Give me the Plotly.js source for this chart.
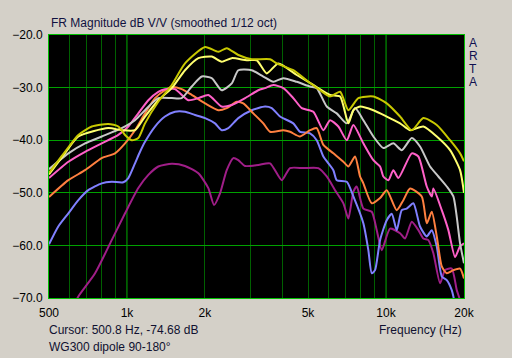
<!DOCTYPE html>
<html><head><meta charset="utf-8">
<script src="https://cdn.plot.ly/plotly-3.0.1.min.js"></script>
<style>html,body{margin:0;padding:0;background:#D4D0C8;}#chart{width:512px;height:358px;}</style>
</head><body><div id="chart"></div>
<script>
// Frequency (Hz) / level (dB) pairs
const oliveF  = [500,576,649,731,847,926,983,1043,1106,1174,1321,1489,1675,2002,2253,2427,2690,3031,3567,3786,4387,5014,5563,6081,6647,7156,7820,8936,10065,11329,12572,13935,15700,17672,19313,20000];
const oliveDb = [-46.2,-42.2,-39,-37.4,-36.9,-37.4,-39,-40,-39.6,-36.8,-32.7,-29.5,-25.4,-22.3,-23.2,-22.5,-23.8,-24.6,-24.6,-25.4,-26.7,-28.9,-30.5,-31.7,-30.8,-34.3,-32.0,-31.7,-33,-35.5,-38.1,-35.8,-37.1,-40,-42.5,-44];

const yellowF  = [500,576,649,847,954,1074,1174,1321,1489,1675,1886,2124,2321,2538,2900,3169,3463,3839,4522,5240,6081,6647,7156,7481,7938,8936,10065,11329,12383,13935,15700,17672,19313,20000];
const yellowDb = [-46.5,-42.5,-39.3,-37.7,-38.1,-38.1,-35.5,-32.4,-30.1,-26.7,-24.4,-24.1,-25.1,-24.4,-24.8,-24.8,-27.3,-25.4,-27.6,-29.5,-31.4,-31.7,-36.8,-34.3,-33.6,-34.3,-35.5,-36.8,-38.1,-37.4,-39.3,-41.9,-45.7,-50];

const grayF  = [500,594,689,799,954,1074,1174,1321,1489,1627,1778,1944,2124,2321,2538,2690,3031,3360,3673,4014,4522,5090,5401,5904,6453,7055,7595,8175,8936,9766,10673,11502,12572,13530,14791,15927,17159,18197,19313,20000];
const grayDb = [-45.5,-42.5,-40.6,-39.3,-37.7,-36.2,-34.3,-32,-32,-32,-29.8,-27.9,-28.2,-30.5,-29.2,-26.7,-26.7,-27.9,-28.9,-28.2,-28.9,-29.8,-30.1,-33.6,-34.9,-36.8,-33.9,-36.2,-39.3,-41.5,-40.6,-41.9,-39.6,-41.2,-45,-46.9,-48.8,-50.7,-59.6,-63.4];

const pinkF  = [500,594,689,799,926,1012,1106,1209,1321,1402,1532,1725,1886,2061,2321,2538,2856,3215,3412,3673,4014,4387,4728,5240,5730,6081,6547,7055,7481,8175,8936,9484,9766,10209,10673,11159,12572,13331,14363,15018,15234,16414,17405,18473,19313,20000];
const pinkDb = [-47.2,-44.1,-42.2,-40.6,-39,-37.4,-34.9,-32.4,-30.8,-30.3,-30.3,-32.4,-32,-31.4,-33.6,-33.3,-32,-30.5,-30.1,-29.5,-30.1,-32,-33.9,-34.6,-38.1,-36.2,-37.4,-40,-37.1,-40.6,-43.8,-45,-46.9,-47.6,-45.7,-47.2,-42.5,-43.1,-48.8,-50.7,-49.2,-53.3,-57.1,-62.2,-60.2,-59.6];

const orangeF  = [500,594,689,799,899,983,1074,1174,1283,1402,1489,1627,1778,2002,2253,2427,2653,2813,3074,3360,3567,4014,4260,4657,5090,5401,5730,6262,6846,7156,7595,7938,8175,8808,9484,10065,11002,11665,12383,13738,14363,15018,15700,16414,17159,18197,19313,20000];
const orangeDb = [-50.8,-47.6,-45.7,-43.4,-42.5,-40.6,-38.1,-34.9,-32,-30.5,-29.9,-30.3,-31.4,-33,-34.3,-33.9,-32.7,-33,-34.9,-36.8,-38.4,-38.1,-38.4,-39.3,-38.1,-37.7,-40.9,-42.5,-44.1,-45,-43.1,-46.9,-48.2,-52,-51,-49.5,-53.3,-51.4,-49.2,-50.7,-55.8,-53.6,-58.3,-64,-65.3,-64.7,-64.4,-66.3];

const blueF  = [500,543,594,649,709,799,873,968,1012,1074,1123,1174,1283,1402,1532,1675,1831,2002,2187,2321,2462,2690,3031,3412,3621,3898,4387,4657,5090,5401,5730,6262,6453,7055,7481,8175,8546,8808,9071,9484,10065,10523,11002,11502,12023,12751,13530,14363,15018,15700,16414,17159,17938,18197,18600];
const blueDb = [-59.8,-56.4,-53.9,-51.4,-49.5,-48.2,-47.9,-48,-47.2,-44.4,-42.2,-40.3,-37.4,-35.5,-34.6,-34.6,-35.2,-35.8,-36.8,-38.1,-37.7,-35.8,-34.3,-33.6,-33.9,-35.5,-36.8,-38.4,-38.7,-40,-43.1,-45.7,-47.6,-47.9,-50.7,-55.8,-60.9,-65.3,-64.7,-59,-55.2,-54,-57.1,-53.3,-53,-52,-56.4,-58.3,-57.1,-60.2,-65.9,-66.6,-68.5,-69.7,-72];

const purpleF  = [630,649,753,873,983,1106,1209,1321,1489,1675,1886,2061,2168,2287,2427,2574,2690,2856,3215,3567,3958,4260,4796,5479,5904,6356,6846,7156,7481,7709,8175,8808,9209,9630,10366,11329,11843,12572,13331,13935,14568,15234,16169,16905,17938,18753,19193,19600];
const purpleDb = [-71,-69.7,-65.3,-59,-53.9,-49.1,-46.6,-45,-44.5,-44.9,-46.3,-49.1,-52.3,-50.1,-45.7,-43.4,-43.8,-44.9,-44.7,-44.4,-47.6,-45.3,-45.3,-45.3,-46.9,-49.5,-52,-54.9,-49.8,-48.8,-53,-53.6,-57.1,-60.9,-56.8,-57.7,-58.7,-55.5,-57.1,-58.7,-59,-61.5,-67.2,-64.7,-64.4,-68.5,-70,-72];

const gridFreqs = [600,700,800,900,1000,2000,3000,4000,5000,6000,7000,8000,9000,10000,20000];
const tickVals = [500,1000,2000,5000,10000,20000];
const tickText = ['500','1k','2k','5k','10k','20k'];
const decadeLines = [1000,10000];
const artaLetters = ['A','R','T','A'];

const series = [
  {f: purpleF, d: purpleDb, c: '#A01E88'},
  {f: blueF, d: blueDb, c: '#8080FF'},
  {f: orangeF, d: orangeDb, c: '#FF8040'},
  {f: pinkF, d: pinkDb, c: '#FF60C8'},
  {f: grayF, d: grayDb, c: '#C8C8C8'},
  {f: yellowF, d: yellowDb, c: '#FFFF70'},
  {f: oliveF, d: oliveDb, c: '#C8C800'}
];

const traces = series.map(s => ({
  x: s.f, y: s.d, type: 'scatter', mode: 'lines',
  line: {color: s.c, width: 2, shape: 'spline', smoothing: 0.6}, hoverinfo: 'skip', showlegend: false
}));

const font = {family: 'Liberation Sans, Arial, sans-serif', size: 12, color: '#000000'};

const shapes = decadeLines.map(v => ({
  type: 'line', xref: 'x', yref: 'paper', x0: v, x1: v, y0: 0, y1: 1,
  line: {color: '#00A000', width: 1}, layer: 'below'
}));

const annotations = [
  {text: 'FR Magnitude dB V/V (smoothed 1/12 oct)', xref: 'paper', yref: 'paper', x: 0, y: 1.046, xanchor: 'left', yanchor: 'middle', showarrow: false, font: {family: font.family, size: 12, color: '#101040'}},
  {text: 'Cursor: 500.8 Hz, -74.68 dB', xref: 'paper', yref: 'paper', x: -0.005, y: -0.122, xanchor: 'left', yanchor: 'middle', showarrow: false, font: {family: font.family, size: 12, color: '#101030'}},
  {text: 'WG300 dipole 90-180°', xref: 'paper', yref: 'paper', x: -0.005, y: -0.186, xanchor: 'left', yanchor: 'middle', showarrow: false, font: {family: font.family, size: 12, color: '#101030'}},
  {text: 'Frequency (Hz)', xref: 'paper', yref: 'paper', x: 1.0, y: -0.122, xanchor: 'right', yanchor: 'middle', showarrow: false, font: {family: font.family, size: 12, color: '#101030'}}
].concat(artaLetters.map((t, i) => ({
  text: t, xref: 'paper', yref: 'paper', x: 1.022, y: 0.97 - i * 0.0495,
  xanchor: 'center', yanchor: 'middle', showarrow: false,
  font: {family: font.family, size: 12, color: '#101050'}
})));

const layout = {
  width: 512, height: 358,
  margin: {l: 49, r: 48, t: 35, b: 60},
  paper_bgcolor: '#D4D0C8', plot_bgcolor: '#000000',
  font: font,
  showlegend: false,
  xaxis: {
    type: 'log', range: [Math.log10(500), Math.log10(20000)],
    tickvals: tickVals, ticktext: tickText, ticks: '', showgrid: false,
    minor: {tickvals: gridFreqs, showgrid: true, gridcolor: '#006000', gridwidth: 1, ticks: ''},
    showline: true, linecolor: '#00C000', linewidth: 1, mirror: true,
    zeroline: false, tickfont: font, ticklabelstandoff: 4
  },
  yaxis: {
    range: [-70, -20], tick0: -70, dtick: 10, tickformat: '.1f', ticks: '',
    showgrid: true, gridcolor: '#00A000', gridwidth: 1,
    showline: true, linecolor: '#00C000', linewidth: 1, mirror: true,
    zeroline: false, tickfont: font, ticklabelstandoff: 3
  },
  shapes: shapes,
  annotations: annotations
};

Plotly.newPlot('chart', traces, layout, {staticPlot: true, displayModeBar: false});
</script></body></html>
